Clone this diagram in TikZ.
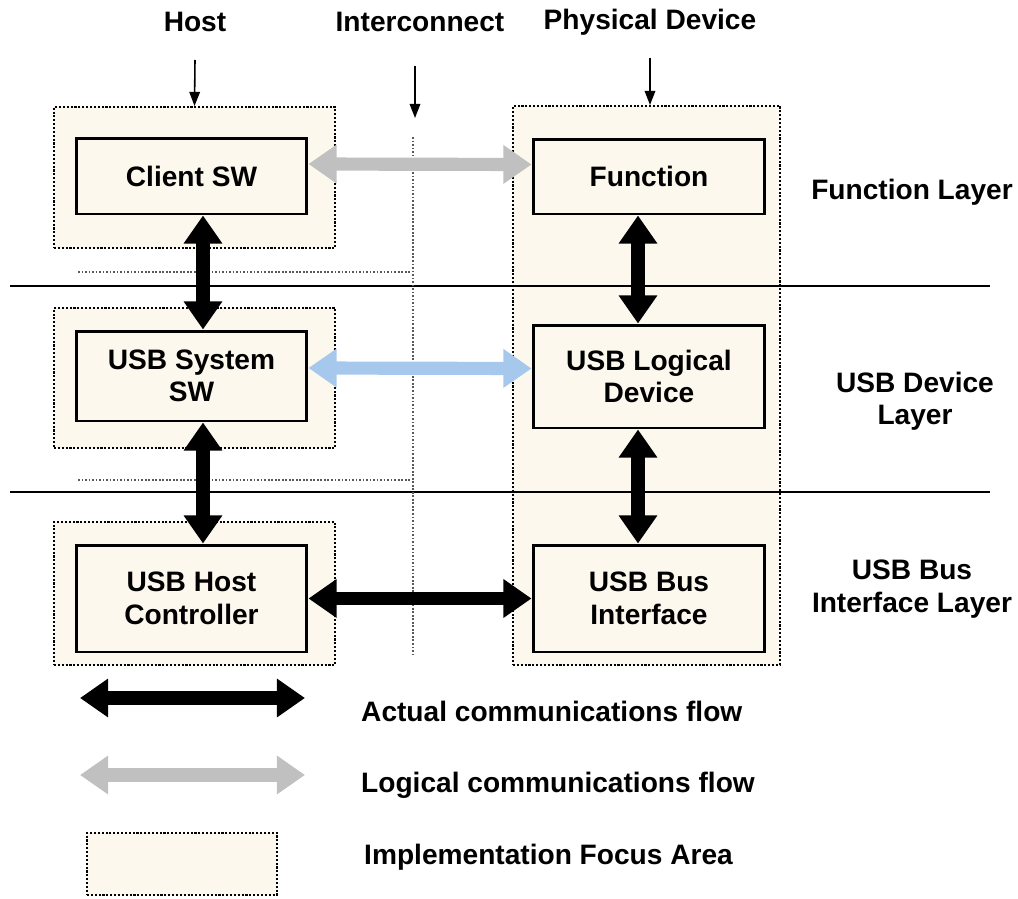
\documentclass[tikz,border=0pt]{standalone}
\usepackage{fontspec}
\setmainfont{Liberation Sans}
\usetikzlibrary{arrows.meta}
\definecolor{focuscream}{HTML}{FDF8EE}
\definecolor{logicgray}{HTML}{C0C0C0}
\definecolor{logicblue}{HTML}{A6C8EC}

\begin{document}
\begin{tikzpicture}[x=0.02cm,y=-0.02cm,
  every node/.style={font=\fontsize{16}{18.5}\selectfont\bfseries},
  flowtip/.tip={Triangle[width=21pt,length=16pt]},
  area/.style={draw,densely dotted,line width=1.2pt,fill=focuscream,inner sep=0pt,minimum width=5.62cm},
  block/.style={draw,line width=1.7pt,fill=focuscream,minimum width=4.62cm,align=center},
  flow/.style={line width=7.5pt,flowtip-flowtip},
  actual/.style={flow,black},
  logical/.style={flow,logicgray},
  pointer/.style={line width=0.9pt,-{Triangle[width=6pt,length=8pt]}},
  layerline/.style={line width=1.2pt},
  guide/.style={gray!70!black,densely dotted,line width=1pt}]
  \useasboundingbox (0,0) rectangle (1018,899);

  % focus areas
  \node[area,minimum height=2.82cm] (harea1) at (194.5,177.5) {};
  \node[area,minimum height=2.8cm] (harea2) at (194.5,378) {};
  \node[area,minimum height=2.86cm] (harea3) at (194.5,593.5) {};
  \node[area,minimum width=5.34cm,minimum height=11.18cm] (parea) at (646.5,385.5) {};

  % layer borders
  \draw[layerline] (10,286) -- (990,286);
  \draw[layerline] (10,492) -- (990,492);
  \draw[guide] (78,272) -- (410,272);
  \draw[guide] (78,480) -- (410,480);
  \coordinate (icTop) at (413,137);
  \coordinate (icBot) at (413,655);
  \draw[guide] (icTop) -- (icBot);

  % column titles
  \node (host) at (195,22) {Host};
  \node (ic) at (420,22) {Interconnect};
  \node (phys) at (650,22) {Physical Device};
  \coordinate (hostptr) at (195,60);
  \coordinate (icptr) at (415,66);
  \coordinate (icend) at (415,118);
  \coordinate (physptr) at (650,58);
  \draw[pointer] (hostptr) -- (harea1.north);
  \draw[pointer] (icptr) -- (icend);
  \draw[pointer] (physptr) -- (parea.north -| physptr);

  % blocks
  \node[block,minimum height=1.52cm] (client) at (191.5,176) {Client SW};
  \node[block,minimum height=1.8cm] (syssw) at (191.5,376) {USB System\\SW};
  \node[block,minimum height=2.14cm] (hostctl) at (191.5,598.5) {USB Host\\Controller};
  \node[block,minimum width=4.64cm,minimum height=1.5cm] (func) at (649,176.5) {Function};
  \node[block,minimum width=4.64cm,minimum height=2.06cm] (logdev) at (649,376.5) {USB Logical\\Device};
  \node[block,minimum width=4.64cm,minimum height=2.14cm] (busif) at (649,598.5) {USB Bus\\Interface};

  % flows
  \draw[actual] ([xshift=0.23cm]client.south) -- ([xshift=0.23cm]syssw.north);
  \draw[actual] ([xshift=0.23cm]syssw.south) -- ([xshift=0.23cm]hostctl.north);
  \draw[actual] ([xshift=-0.22cm]func.south) -- ([xshift=-0.22cm]logdev.north);
  \draw[actual] ([xshift=-0.22cm]logdev.south) -- ([xshift=-0.22cm]busif.north);
  \draw[logical] ([yshift=0.24cm]client.east) -- ([yshift=0.24cm]func.west);
  \draw[flow,logicblue] ([yshift=0.16cm]syssw.east) -- ([yshift=0.16cm]logdev.west);
  \draw[actual] (hostctl.east) -- (busif.west);

  % layer names
  \node[align=center] (fnlayer) at (912,192) {Function Layer};
  \node[align=center] (devlayer) at (915,401) {USB Device\\Layer};
  \node[align=center] (buslayer) at (912,589) {USB Bus\\Interface Layer};

  % legend
  \coordinate (actL) at (80,698);
  \coordinate (actR) at (305,698);
  \coordinate (logL) at (80,775);
  \coordinate (logR) at (305,775);
  \draw[actual] (actL) -- (actR);
  \draw[logical] (logL) -- (logR);
  \node[area,minimum width=3.8cm,minimum height=1.24cm] (keyarea) at (182,864) {};
  \node[anchor=west] (actkey) at (355,711) {Actual communications flow};
  \node[anchor=west] (logkey) at (355,785) {Logical communications flow};
  \node[anchor=west] (areakey) at (358,857) {Implementation Focus Area};
\end{tikzpicture}
\end{document}
